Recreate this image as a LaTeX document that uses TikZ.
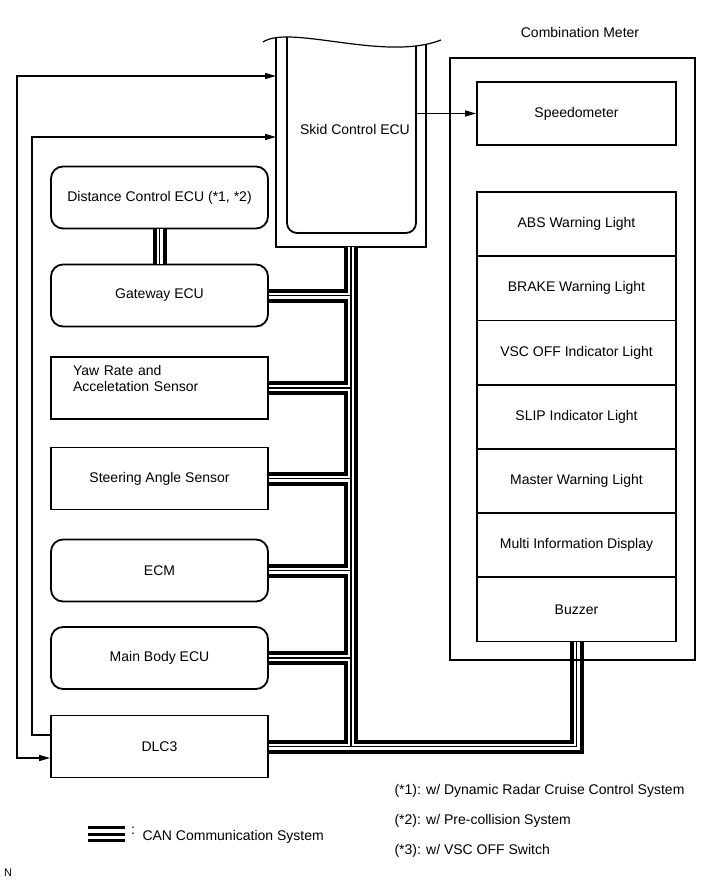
\documentclass[tikz,border=0pt]{standalone}
\usepackage{fontspec}
\setmainfont{Liberation Sans}
\usetikzlibrary{arrows.meta}

\tikzset{
  unitbox/.style={draw=black, line width=1.8pt, minimum width=217pt, minimum height=62pt, inner sep=2pt},
  roundbox/.style={unitbox, rounded corners=12pt},
  meteritem/.style={draw=black, line width=1.8pt, minimum width=199pt, minimum height=64.2pt, inner sep=0pt},
  wire/.style={line width=1.3pt},
}

\begin{document}
\begin{tikzpicture}[x=1pt, y=-1pt, >={Triangle[length=11pt,width=6pt]},
    every node/.style={font=\fontsize{14}{16}\selectfont}]
\useasboundingbox (0,0) rectangle (713,882);

% units on the left
\node[roundbox] (dist) at (159.5,197.5) {Distance Control ECU (*1, *2)};
\node[roundbox] (gw) at (159.5,295.5) {Gateway ECU};
\node[unitbox, align=left, text width=173pt, text depth=35pt] (yaw) at (159.5,388) {Yaw Rate and\\Acceletation Sensor};
\node[unitbox] (steer) at (159.5,478.5) {Steering Angle Sensor};
\node[roundbox] (ecm) at (159.5,570.5) {ECM};
\node[roundbox] (body) at (159.5,658) {Main Body ECU};
\node[unitbox] (dlc) at (159.5,746.5) {DLC3};

% skid control ecu, cut off at the top
\draw[line width=1.8pt] (276,37.5) -- (276,247) -- (426,247) -- (426,45);
\draw[line width=1.8pt, rounded corners=10pt] (287,37) -- (287,233) -- (416,233) -- (416,46);
\draw[line width=1.2pt] (263,42) .. controls (290,24) and (385,62) .. (441,40);
\node (skid) at (355,129) {Skid Control ECU};
\coordinate (skidin1) at (276,76);
\coordinate (skidin2) at (276,137);
\coordinate (skidout) at (416,113.5);
\coordinate (trunk) at (351,247);

% combination meter
\node (meterlabel) at (580,33) {Combination Meter};
\node[meteritem, minimum height=63pt] (speedo) at (576.5,113.5) {Speedometer};
\node[meteritem] (abs) at (576.5,224.1) {ABS Warning Light};
\node[meteritem] (brake) at (576.5,288.3) {BRAKE Warning Light};
\node[meteritem] (vsc) at (576.5,352.5) {VSC OFF Indicator Light};
\node[meteritem] (slip) at (576.5,416.7) {SLIP Indicator Light};
\node[meteritem] (master) at (576.5,480.9) {Master Warning Light};
\node[meteritem] (mid) at (576.5,545.1) {Multi Information Display};
\node[meteritem] (buzzer) at (576.5,609.3) {Buzzer};

% CAN lines: black, then white, then the thin black one
\foreach \w/\c in {14pt/black, 6pt/white, 1.2pt/black} {
  \draw[line width=\w, draw=\c] (trunk) -- (trunk |- dlc.east);
  \draw[line width=\w, draw=\c] (dlc.east) -| (buzzer.south);
  \draw[line width=\w, draw=\c] (gw.east) -- (gw.east -| trunk);
  \draw[line width=\w, draw=\c] (yaw.east) -- (yaw.east -| trunk);
  \draw[line width=\w, draw=\c] (steer.east) -- (steer.east -| trunk);
  \draw[line width=\w, draw=\c] (ecm.east) -- (ecm.east -| trunk);
  \draw[line width=\w, draw=\c] (body.east) -- (body.east -| trunk);
  \draw[line width=\w, draw=\c] (dist.south) -- (gw.north);
}

\node[draw=black, line width=1.8pt, minimum width=245pt, minimum height=602pt] (meter) at (572.5,359) {};

% signal lines
\draw[wire, <->] ([yshift=-11.5pt]dlc.west) -| (17,76) -- (skidin1);
\draw[wire, ->] ([yshift=11.5pt]dlc.west) -| (32,137) -- (skidin2);
\draw[wire, ->] (skidout) -- (speedo.west);

% legend and notes
\foreach \ly in {827.5, 834, 840.5}
  \draw[line width=3pt] (88,\ly) -- (125,\ly);
\node (legendcolon) at (133,831) {:};
\node[anchor=west] (legendtext) at (139,837) {CAN Communication System};
\node[anchor=west] (note1) at (391,791) {(*1): w/ Dynamic Radar Cruise Control System};
\node[anchor=west] (note2) at (391,821) {(*2): w/ Pre-collision System};
\node[anchor=west] (note3) at (391,851) {(*3): w/ VSC OFF Switch};
\node[font=\fontsize{11}{13}\selectfont] (mark) at (8,873) {N};
\end{tikzpicture}
\end{document}
